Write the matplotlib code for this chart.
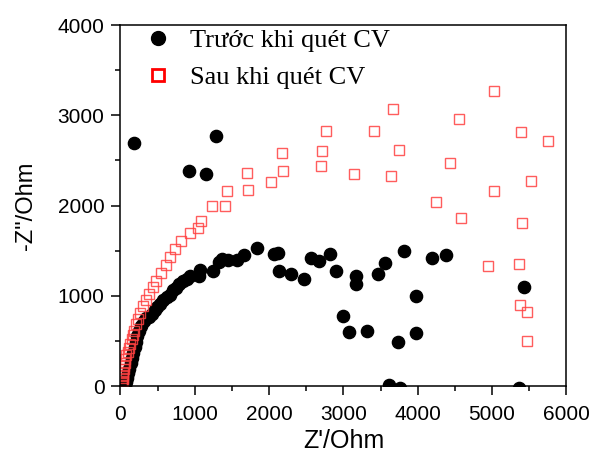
import numpy as np
import matplotlib
matplotlib.use('Agg')
import matplotlib.pyplot as plt
from matplotlib.lines import Line2D
from matplotlib.ticker import MultipleLocator

# Truoc khi quet CV (before)
x_before = [60, 75, 90, 105, 120, 140, 160, 175, 190, 205, 225, 250, 280, 320, 350,
            384, 428, 464, 495, 532, 576, 622, 666, 711, 751, 787, 837, 891, 935,
            1052, 1074, 1245, 1330, 1362, 1451, 1564, 1666, 1837, 2070, 2124, 2137,
            2290, 2470, 2564, 2672, 2824, 2900, 2995, 3080, 3170, 3165, 3313, 3461,
            3564, 3730, 3816, 3973, 3977, 4192, 4381, 5431, 3614, 3762, 5359,
            178, 926, 1155, 1281]
y_before = [0, 40, 90, 140, 190, 250, 310, 370, 430, 490, 550, 610, 670, 720, 750,
            766, 803, 840, 876, 914, 950, 983, 1013, 1061, 1091, 1127, 1163, 1186, 1219,
            1219, 1289, 1274, 1373, 1403, 1400, 1392, 1448, 1525, 1459, 1470, 1271,
            1240, 1190, 1422, 1389, 1466, 1278, 777, 600, 1219, 1130, 615, 1245,
            1362, 490, 1492, 995, 593, 1422, 1448, 1102, 11, -20, -20,
            2696, 2383, 2350, 2766]

# Sau khi quet CV (after)
x_after = [20, 25, 30, 32, 35, 40, 45, 50, 60, 67, 80, 95, 110, 130, 150, 165,
           178, 205, 236, 266, 307, 343, 388, 433, 474, 541, 608, 666, 733, 814,
           935, 1039, 1083, 1227, 1406, 1433, 1716, 1707, 2030, 2174, 2183, 2694,
           2708, 2762, 3147, 3407, 3645, 3663, 3748, 4250, 4439, 4560, 4578, 4946,
           5023, 5031, 5368, 5377, 5386, 5404, 5467, 5475, 5521, 5749]
y_after = [0, 30, 60, 90, 120, 150, 185, 220, 260, 300, 340, 380, 420, 470, 520, 560,
           611, 685, 748, 814, 884, 950, 1024, 1097, 1168, 1249, 1341, 1425, 1514, 1610,
           1698, 1746, 1834, 1997, 1992, 2162, 2169, 2357, 2257, 2582, 2387, 2442,
           2608, 2821, 2346, 2825, 2328, 3072, 2619, 2037, 2475, 2961, 1867, 1333,
           3267, 2158, 1356, 903, 2810, 1805, 497, 825, 2273, 2718]

labels = ['Trước khi quét CV', 'Sau khi quét CV']
red = '#ff4040'

fig = plt.figure(figsize=(5.92, 4.55), dpi=100)
ax = fig.add_axes([0.2035, 0.1516, 0.7531, 0.7934])

ax.plot(x_before, y_before, 'o', ms=8.8, color='black', mec='black')
ax.plot(x_after, y_after, 's', ms=6.5, mfc='none', mec=red, mew=1.0, alpha=0.85)

ax.set_xlim(0, 6000)
ax.set_ylim(0, 4000)
ax.xaxis.set_major_locator(MultipleLocator(1000))
ax.xaxis.set_minor_locator(MultipleLocator(500))
ax.yaxis.set_major_locator(MultipleLocator(1000))
ax.yaxis.set_minor_locator(MultipleLocator(500))
ax.tick_params(which='major', direction='out', length=6.5, width=1.1,
               labelsize=15)
ax.tick_params(axis='x', which='major', pad=7)
ax.tick_params(axis='y', which='major', pad=5)
ax.tick_params(which='minor', direction='out', length=3.3, width=1.1)
for lab in ax.get_xticklabels() + ax.get_yticklabels():
    lab.set_family('Liberation Sans')
for s in ax.spines.values():
    s.set_linewidth(1.1)

ax.set_xlabel("Z'/Ohm", fontsize=18, family='Liberation Sans', labelpad=4)
ax.set_ylabel('-Z"/Ohm', fontsize=17, family='Liberation Sans', labelpad=15)

handles = [Line2D([], [], ls='none', marker='o', ms=10, color='black'),
           Line2D([], [], ls='none', marker='s', ms=9, mfc='none', mec='red', mew=2)]
ax.legend(handles, labels, loc='upper left', bbox_to_anchor=(0.055, 0.99),
          frameon=False, borderpad=0, borderaxespad=0, handlelength=1.0,
          handletextpad=0.7, labelspacing=0.5,
          prop={'family': 'Liberation Serif', 'size': 19})

fig.savefig('out.png', dpi=100)
